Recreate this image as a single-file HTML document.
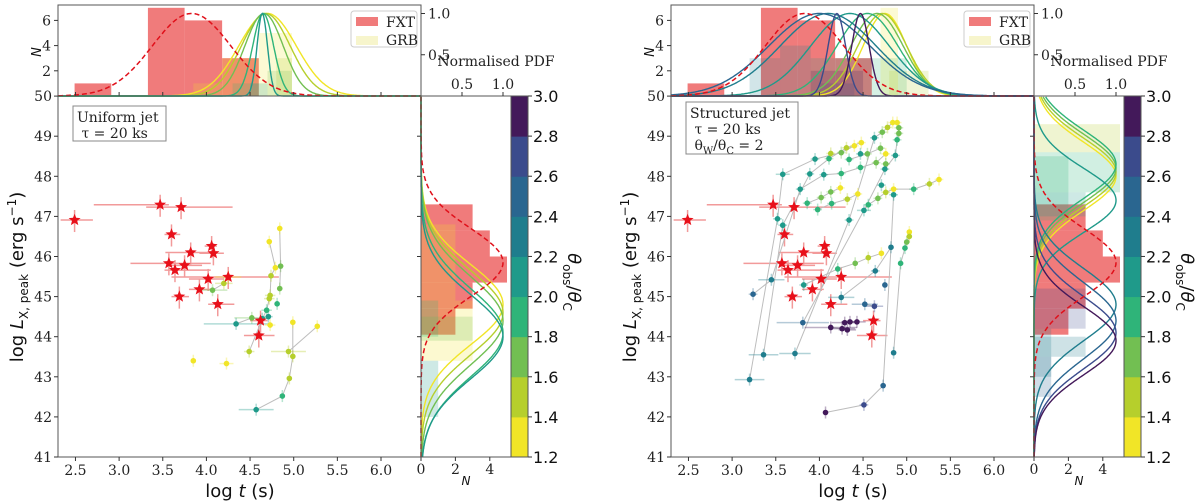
<!DOCTYPE html>
<html><head><meta charset="utf-8">
<style>
html,body{margin:0;padding:0;background:#fff;}
svg{display:block;}
.tk{font-family:"DejaVu Serif","Liberation Serif",serif;font-size:14px;fill:#222;}
.lab{font-family:"DejaVu Sans","Liberation Sans",sans-serif;fill:#111;}
</style></head>
<body>
<svg id="fig" width="1200" height="504" viewBox="0 0 1200 504" xmlns="http://www.w3.org/2000/svg"></svg>
<script>
// ---------- DATA ----------
const starT  = [2.49,3.47,3.71,3.60,4.06,4.08,3.82,3.57,3.64,3.75,4.02,4.25,3.92,3.69,4.13,4.62,4.60];
const starL  = [46.91,47.29,47.23,46.55,46.26,46.08,46.10,45.83,45.66,45.78,45.44,45.49,45.18,45.00,44.81,44.40,44.03];
const starTlo= [2.33,2.71,3.31,3.52,3.98,3.92,3.53,3.13,3.52,3.55,3.80,3.60,3.80,3.60,4.02,4.50,4.43];
const starThi= [2.70,3.57,4.30,3.70,4.12,4.20,4.10,4.05,4.05,3.95,4.20,4.83,4.05,3.80,4.32,4.70,4.78];
const fxtTbinLo=[2.49,2.91,3.33,3.75,4.18];
const fxtTbinHi=[2.91,3.33,3.75,4.18,4.60];
const fxtTcount=[1,0,7,6,3];
const fxtLbinLo=[44.05,44.70,45.35,46.00,46.65];
const fxtLbinHi=[44.70,45.35,46.00,46.65,47.30];
const fxtLcount=[2,3,5,4,3];
const fxtTmu=3.83, fxtTsig=0.45, fxtLmu=45.85, fxtLsig=0.85;

// left panel (uniform jet)
const uT  =[4.72,4.84,4.79,4.85,4.74,4.84,4.73,4.72,4.81,4.69,4.64,4.71,4.52,4.34,4.73,4.25,4.20,4.07,4.99,5.27,4.94,4.99,4.49,4.95,4.87,4.57,3.85,4.23];
const uL  =[46.37,46.70,45.72,45.76,45.52,45.20,45.03,44.95,44.82,44.66,44.45,44.50,44.47,44.32,44.29,45.49,45.33,45.16,44.36,44.26,43.63,43.51,43.63,42.96,42.52,42.18,43.40,43.33];
const uTh =[1.3,1.3,1.3,1.7,1.5,1.7,1.5,1.5,1.9,1.9,2.1,2.1,1.7,2.1,1.3,1.3,1.5,1.7,1.3,1.3,1.5,1.5,1.5,1.5,1.9,2.1,1.3,1.3];
const uTerr=[0.03,0.03,0.03,0.03,0.03,0.03,0.06,0.06,0.03,0.06,0.05,0.05,0.2,0.37,0.06,0.15,0.1,0.17,0.03,0.03,0.2,0.03,0.06,0.03,0.03,0.2,0.03,0.08];
const uTracks=[[1,3,5],[0,2,4,6,7,9,10],[13,12,10],[17,16,15],[19,20],[22,10],[18,21,23,24,25]];
const uTopMu=[4.70,4.68,4.66,4.65,4.64], uTopSig=[0.33,0.28,0.22,0.12,0.06], uTopTh=[1.3,1.5,1.7,1.9,2.1];
const uRightMu=[44.8,44.6,44.4,44.1,44.0], uRightSig=[1.0,1.05,1.1,1.1,1.05], uRightTh=[1.3,1.5,1.7,1.9,2.1];
const uGrbTlo=[4.60,4.18,3.85,4.80,4.70,4.30,4.50], uGrbThi=[4.98,4.60,4.18,4.98,4.98,4.60,4.70], uGrbTn=[5,3,1,3,2,1,1], uGrbTth=[1.3,1.3,1.3,1.5,1.7,1.9,2.1];
const uGrbLlo=[43.4,44.9,43.9,42.6,42.0,44.0], uGrbLhi=[44.9,46.8,44.5,43.4,42.6,44.9], uGrbLn=[3,2,3,1,1,1], uGrbLth=[1.3,1.3,1.7,2.1,2.1,1.9];

// right panel (structured jet)
const sT=[3.58,3.52,3.58,3.36,3.20,3.24,3.45,3.72,3.78,3.86,3.95,3.89,4.05,3.98,4.02,4.11,4.13,4.13,4.14,4.24,4.25,4.25,4.31,4.32,4.34,4.34,4.40,4.44,4.48,4.47,4.47,4.55,4.51,4.56,4.63,4.65,4.67,4.70,4.71,4.72,4.76,4.76,4.76,4.75,4.78,4.84,4.89,4.91,4.91,4.89,4.87,4.85,4.85,5.08,5.26,5.37,5.03,5.03,5.00,4.98,4.93,4.71,4.56,4.41,4.21,3.82,4.82,4.64,4.75,4.25,4.52,4.63,3.81,4.29,4.35,4.43,4.13,4.26,4.32,4.85,4.73,4.51,4.07];
const sL=[48.05,46.94,46.78,43.55,42.93,45.06,45.42,43.58,47.68,47.33,48.43,48.06,48.04,47.17,47.47,48.44,47.61,48.57,47.32,47.71,48.07,48.59,48.71,47.43,48.42,46.91,48.76,47.56,48.84,48.56,48.22,48.56,47.15,47.29,48.96,48.34,47.45,48.70,47.78,49.10,48.56,48.31,47.60,48.18,49.22,49.34,49.34,49.21,49.07,48.91,48.52,47.54,47.68,47.68,47.81,47.92,46.61,46.50,46.36,46.21,45.83,46.08,45.97,45.83,45.69,45.29,46.23,45.64,45.29,44.98,44.81,44.76,44.35,44.35,44.37,44.37,44.23,44.20,44.17,43.60,42.78,42.30,42.11];
const sTh=[2.1,2.1,2.0,2.2,2.3,2.4,2.3,2.2,2.1,1.9,2.0,2.1,2.1,1.8,1.7,1.9,1.6,1.5,1.8,1.3,1.9,1.7,1.5,1.5,1.8,2.1,1.3,1.3,1.3,2.0,1.8,1.7,2.1,1.9,2.0,1.6,1.6,1.6,2.1,1.6,1.3,1.7,1.5,2.0,1.5,1.3,1.3,1.6,1.7,1.9,2.0,2.0,1.3,1.8,1.5,1.3,1.3,1.5,1.7,1.9,1.9,1.3,1.5,1.7,1.8,2.0,2.3,2.3,2.5,2.3,2.5,2.6,2.4,2.8,2.8,2.8,2.9,2.9,2.9,2.3,2.5,2.7,2.8];
const sTerr=[0.08,0.05,0.05,0.17,0.17,0.05,0.15,0.18,0.05,0.05,0.05,0.05,0.05,0.05,0.05,0.05,0.05,0.05,0.05,0.05,0.05,0.05,0.05,0.05,0.05,0.05,0.05,0.05,0.05,0.05,0.05,0.05,0.08,0.05,0.05,0.05,0.05,0.05,0.05,0.05,0.05,0.05,0.05,0.05,0.05,0.05,0.05,0.05,0.05,0.05,0.05,0.05,0.05,0.05,0.05,0.05,0.03,0.03,0.03,0.03,0.03,0.03,0.03,0.03,0.03,0.05,0.03,0.05,0.03,0.15,0.15,0.1,0.3,0.15,0.1,0.1,0.3,0.15,0.1,0.03,0.03,0.05,0.03];
const sTracks=[[4,1,0,10,21,26],[3,2,11,15,22,28],[5,6,8,12,20],[7,25,34,39,44,45],[72,32,43,50,49,48,47,46],[79,60,59,58,57,56],[82,81,80,66,51],[65,64,63,62,61],[9,14,16,19],[13,18,23,27],[32,33,36,42,52,53,54,55],[20,30,35,40],[24,31,37],[69,67,66],[76,77,78],[73,74,75],[70,71]];
const sTopMu=[4.75,4.72,4.66,4.55,4.35,4.10,4.00,4.20,4.47], sTopSig=[0.25,0.28,0.30,0.35,0.45,0.55,0.58,0.10,0.10], sTopTh=[1.3,1.5,1.7,1.9,2.1,2.3,2.5,2.7,2.9];
const sRightMu=[48.0,48.1,48.2,48.3,47.4,44.8,44.4,44.1,43.9], sRightSig=[0.85,0.85,0.85,0.85,0.8,0.9,0.95,0.9,0.85], sRightTh=[1.3,1.5,1.7,1.9,2.1,2.3,2.5,2.7,2.9];
const sGrbTlo=[3.20,3.55,3.90,4.60,4.70,4.80,3.90,4.00], sGrbThi=[3.55,3.90,4.60,5.00,4.90,5.25,4.50,4.40], sGrbTn=[3,4,3,3,7,2,2,1], sGrbTth=[2.3,2.2,2.0,1.8,1.3,1.5,2.8,2.6];
const sGrbLlo=[48.6,47.6,46.9,47.0,44.2,43.5,42.5,43.0], sGrbLhi=[49.3,48.6,48.5,47.6,45.2,44.0,43.5,44.2], sGrbLn=[5,5,2,3,3,3,1,1], sGrbLth=[1.5,1.8,1.9,2.1,2.6,2.2,2.4,2.2];

const cbTicks=[1.2,1.4,1.6,1.8,2.0,2.2,2.4,2.6,2.8,3.0];
const cbColors=['#f1e527','#b6cf2c','#72bf52','#2fb479','#1f9a8a','#1f7d8d','#2a6690','#3b4b8c','#43195a'];

// ---------- DRAWING ----------
const NS='http://www.w3.org/2000/svg';
const svg=document.getElementById('fig');
function mk(tag,attrs,parent){const e=document.createElementNS(NS,tag);for(const k in attrs)e.setAttribute(k,attrs[k]);(parent||svg).appendChild(e);return e;}
function col(th){let i=Math.floor((th-1.2)/0.2+1e-6);i=Math.max(0,Math.min(8,i));return cbColors[i];}
function gauss(x,mu,s){return Math.exp(-(x-mu)*(x-mu)/(2*s*s));}

function panel(ox, name, T,L,TH,TERR,TRACKS, topMu,topSig,topTh, rMu,rSig,rTh, gTlo,gThi,gTn,gTth, gLlo,gLhi,gLn,gLth, boxLines, boxW, boxH){
  const g=mk('g',{transform:'translate('+ox+',0)'});
  
  
  const X0=58,X1=421,Y0=96,Y1=457;
  const xs=t=>X0+(t-2.3)*87.3;
  const ys=l=>Y1-(l-41)*40.1;
  const thN=n=>Y0-n*12.6, thP=p=>Y0-p*82.5;
  const rhN=n=>X1+n*17.2, rhP=p=>X1+p*82;

  // top histogram
  const top=mk('g',{},g);
  
  
  for(let i=0;i<fxtTcount.length;i++){
    const r=mk('rect',{x:xs(fxtTbinLo[i]),y:thN(fxtTcount[i]),width:xs(fxtTbinHi[i])-xs(fxtTbinLo[i]),height:fxtTcount[i]*12.6,fill:'#f07b7b'},top);
    
    
  }
  for(let i=0;i<gTn.length;i++){
    const r=mk('rect',{x:xs(gTlo[i]),y:thN(gTn[i]),width:xs(gThi[i])-xs(gTlo[i]),height:gTn[i]*12.6,fill:col(gTth[i]),'fill-opacity':0.2},top);
    
    
  }
  function curveTop(mu,s,c,dash,w){let d='';for(let t=2.3;t<=6.45;t+=0.01){d+=(d?'L':'M')+xs(t).toFixed(1)+','+thP(gauss(t,mu,s)).toFixed(1);}
    const p=mk('path',{d:d,fill:'none',stroke:c,'stroke-width':w,'stroke-dasharray':dash},top);return p;}
  for(let i=0;i<topMu.length;i++){const p=curveTop(topMu[i],topSig[i],col(topTh[i]),'none',1.4);
    }
  const pr=curveTop(fxtTmu,fxtTsig,'#e0101a','5,3',1.5);
  
  mk('rect',{x:X0,y:5,width:X1-X0,height:Y0-5,fill:'none',stroke:'#555','stroke-width':1},top);
  [2,4,6].forEach(n=>{mk('line',{x1:X0-4,x2:X0,y1:thN(n),y2:thN(n),stroke:'#333'},top);
    const t=mk('text',{x:X0-7,y:thN(n)+5,'text-anchor':'end',class:'tk'},top);t.textContent=n;});
  const nl=mk('text',{x:0,y:0,class:'lab','font-size':13,'font-style':'italic',transform:'translate(41,52) rotate(-90)','text-anchor':'middle'},top);nl.textContent='N';
  
  [0.5,1.0].forEach(p=>{mk('line',{x1:X1,x2:X1+4,y1:thP(p),y2:thP(p),stroke:'#333'},top);
    const t=mk('text',{x:X1+7,y:thP(p)+5,class:'tk'},top);t.textContent=p.toFixed(1);});
  for(let t=2.5;t<=6.01;t+=0.5){mk('line',{x1:xs(t),x2:xs(t),y1:Y0,y2:Y0-4,stroke:'#333'},top);}
  // legend
  const lg=mk('g',{},g);
  
  
  mk('rect',{x:351,y:11,width:66,height:36,rx:3,fill:'#fff',stroke:'#ccc'},lg);
  mk('rect',{x:356,y:17,width:22,height:9,fill:'#f07b7b'},lg);
  mk('rect',{x:356,y:36,width:22,height:9,fill:'#f7f5cc'},lg);
  let t1=mk('text',{x:386,y:27,class:'tk','font-size':13},lg);t1.textContent='FXT';
  
  let t2=mk('text',{x:386,y:45,class:'tk','font-size':13},lg);t2.textContent='GRB';
  

  // right histogram
  const rh=mk('g',{},g);
  
  
  for(let i=0;i<fxtLcount.length;i++){
    const r=mk('rect',{x:X1,y:ys(fxtLbinHi[i]),width:fxtLcount[i]*17.2,height:ys(fxtLbinLo[i])-ys(fxtLbinHi[i]),fill:'#f07b7b'},rh);
    
  }
  for(let i=0;i<gLn.length;i++){
    const r=mk('rect',{x:X1,y:ys(gLhi[i]),width:gLn[i]*17.2,height:ys(gLlo[i])-ys(gLhi[i]),fill:col(gLth[i]),'fill-opacity':0.22},rh);
    
  }
  function curveR(mu,s,c,dash,w){let d='';for(let l=41;l<=50;l+=0.02){d+=(d?'L':'M')+rhP(gauss(l,mu,s)).toFixed(1)+','+ys(l).toFixed(1);}
    return mk('path',{d:d,fill:'none',stroke:c,'stroke-width':w,'stroke-dasharray':dash},rh);}
  for(let i=0;i<rMu.length;i++){const p=curveR(rMu[i],rSig[i],col(rTh[i]),'none',1.4);
    }
  const pr2=curveR(fxtLmu,fxtLsig,'#e0101a','5,3',1.5);
  
  mk('line',{x1:X1,x2:X1,y1:Y0,y2:Y1,stroke:'#555'},rh);
  mk('line',{x1:X1,x2:511,y1:Y1,y2:Y1,stroke:'#555'},rh);
  mk('line',{x1:X1,x2:511,y1:Y0,y2:Y0,stroke:'#555'},rh);
  [0,2,4].forEach(n=>{mk('line',{x1:rhN(n),x2:rhN(n),y1:Y1,y2:Y1+4,stroke:'#333'},rh);
    const t=mk('text',{x:rhN(n),y:Y1+17,'text-anchor':'middle',class:'tk','font-size':12},rh);t.textContent=n;});
  const nl2=mk('text',{x:466,y:485,class:'lab','font-size':12,'font-style':'italic','text-anchor':'middle'},rh);nl2.textContent='N';
  
  [0.5,1.0].forEach(p=>{mk('line',{x1:rhP(p),x2:rhP(p),y1:Y0,y2:Y0-4,stroke:'#333'},rh);
    const t=mk('text',{x:rhP(p),y:Y0-7,'text-anchor':'middle',class:'tk','font-size':12},rh);t.textContent=p.toFixed(1);});
  const npdf=mk('text',{x:496,y:66,class:'tk','font-size':12.5,'text-anchor':'middle'},rh);npdf.textContent='Normalised PDF';
  
  for(let l=42;l<=49;l++){mk('line',{x1:X1,x2:X1-4,y1:ys(l),y2:ys(l),stroke:'#333'},rh);}

  // main axes
  const m=mk('g',{},g);
  
  
  for(let i=0;i<starT.length;i++){
    mk('line',{x1:xs(starTlo[i]),x2:xs(starThi[i]),y1:ys(starL[i]),y2:ys(starL[i]),stroke:'#f29a9a','stroke-width':1.5},m);
    mk('line',{x1:xs(starT[i]),x2:xs(starT[i]),y1:ys(starL[i]+0.25),y2:ys(starL[i]-0.3),stroke:'#f29a9a','stroke-width':1.5},m);
  }
  TRACKS.forEach(tr=>{let d='';tr.forEach((k,j)=>{d+=(j?'L':'M')+xs(T[k]).toFixed(1)+','+ys(L[k]).toFixed(1);});
    const p=mk('path',{d:d,fill:'none',stroke:'#bdbdbd','stroke-width':1},m);
    });
  for(let i=0;i<T.length;i++){
    mk('line',{x1:xs(T[i]-TERR[i]),x2:xs(T[i]+TERR[i]),y1:ys(L[i]),y2:ys(L[i]),stroke:col(TH[i]),'stroke-opacity':0.35,'stroke-width':1.5},m);
    mk('line',{x1:xs(T[i]),x2:xs(T[i]),y1:ys(L[i]+0.15),y2:ys(L[i]-0.15),stroke:col(TH[i]),'stroke-opacity':0.35,'stroke-width':1.5},m);
  }
  for(let i=0;i<T.length;i++){
    const c=mk('circle',{cx:xs(T[i]),cy:ys(L[i]),r:2.8,fill:col(TH[i])},m);
    
  }
  for(let i=0;i<starT.length;i++){
    const cx=xs(starT[i]),cy=ys(starL[i]);let d='';
    for(let k=0;k<10;k++){const r=k%2?2.7:6.3;const a=-Math.PI/2+k*Math.PI/5;d+=(k?'L':'M')+(cx+r*Math.cos(a)).toFixed(1)+','+(cy+r*Math.sin(a)).toFixed(1);}
    const s=mk('path',{d:d+'Z',fill:'#e8101a'},m);
    
  }
  mk('rect',{x:X0,y:Y0,width:X1-X0,height:Y1-Y0,fill:'none',stroke:'#555'},m);
  for(let t=2.5;t<=6.01;t+=0.5){mk('line',{x1:xs(t),x2:xs(t),y1:Y1,y2:Y1+4,stroke:'#333'},m);
    const tx=mk('text',{x:xs(t),y:Y1+18,'text-anchor':'middle',class:'tk'},m);tx.textContent=t.toFixed(1);}
  for(let l=41;l<=50;l++){mk('line',{x1:X0,x2:X0-4,y1:ys(l),y2:ys(l),stroke:'#333'},m);
    const tx=mk('text',{x:X0-6,y:ys(l)+5,'text-anchor':'end',class:'tk'},m);tx.textContent=l;}
  const xl=mk('text',{x:240,y:497,class:'lab','font-size':18,'text-anchor':'middle'},m);
  xl.innerHTML='log <tspan font-style="italic">t</tspan> (s)';
  
  const yl=mk('text',{x:0,y:0,class:'lab','font-size':18,'text-anchor':'middle',transform:'translate(23,277) rotate(-90)'},m);
  yl.innerHTML='log <tspan font-style="italic">L</tspan><tspan font-size="12" dy="5">X, peak</tspan><tspan dy="-5"> (erg s</tspan><tspan font-size="12" dy="-7">−1</tspan><tspan dy="7">)</tspan>';
  
  const bx=mk('g',{},g);
  
  
  mk('rect',{x:boxLines.x,y:boxLines.y,width:boxW,height:boxH,fill:'#fff',stroke:'#888'},bx);
  boxLines.lines.forEach((s,i)=>{const t=mk('text',{x:boxLines.x+4,y:boxLines.y+16+i*16,class:'tk','font-size':16.5},bx);t.innerHTML=s;});

  const cb=mk('g',{},g);
  
  
  const cy=v=>Y1-(v-1.2)/1.8*(Y1-Y0);
  for(let i=0;i<cbColors.length;i++){mk('rect',{x:511,y:cy(cbTicks[i+1]),width:17,height:cy(cbTicks[i])-cy(cbTicks[i+1])+0.5,fill:cbColors[i]},cb);}
  mk('rect',{x:511,y:Y0,width:17,height:Y1-Y0,fill:'none',stroke:'#555'},cb);
  cbTicks.forEach(v=>{mk('line',{x1:528,x2:532,y1:cy(v),y2:cy(v),stroke:'#333'},cb);
    const t=mk('text',{x:533,y:cy(v)+6,class:'lab','font-size':16},cb);t.textContent=v.toFixed(1);});
  const cl=mk('text',{x:0,y:0,class:'lab','font-size':18,'text-anchor':'middle',transform:'translate(568,282) rotate(90)'},cb);
  cl.innerHTML='<tspan font-style="italic">θ</tspan><tspan font-size="12" dy="5">obs</tspan><tspan dy="-5">/</tspan><tspan font-style="italic">θ</tspan><tspan font-size="12" dy="5">C</tspan>';
  
}

panel(0,'uniform-jet-panel',uT,uL,uTh,uTerr,uTracks,uTopMu,uTopSig,uTopTh,uRightMu,uRightSig,uRightTh,
  uGrbTlo,uGrbThi,uGrbTn,uGrbTth,uGrbLlo,uGrbLhi,uGrbLn,uGrbLth,
  {x:73,y:106,lines:['Uniform jet','&#160;τ = 20 ks']},93,35);
panel(613,'structured-jet-panel',sT,sL,sTh,sTerr,sTracks,sTopMu,sTopSig,sTopTh,sRightMu,sRightSig,sRightTh,
  sGrbTlo,sGrbThi,sGrbTn,sGrbTth,sGrbLlo,sGrbLhi,sGrbLn,sGrbLth,
  {x:73,y:102,lines:['Structured jet','&#160;τ = 20 ks','&#160;θ<tspan font-size="10" dy="4">W</tspan><tspan dy="-4">/θ</tspan><tspan font-size="10" dy="4">C</tspan><tspan dy="-4"> = 2</tspan>']},112,52);
</script>
</body></html>
